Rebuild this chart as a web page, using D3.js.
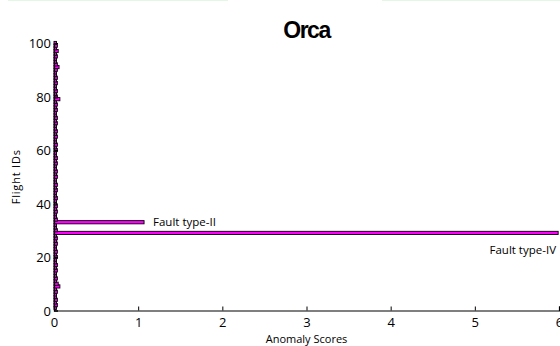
<!DOCTYPE html>
<html>
<head>
<meta charset="utf-8">
<script src="https://cdn.jsdelivr.net/npm/d3@7"></script>
<style>
  html, body { margin: 0; padding: 0; background: #fff; }
  svg { display: block; }
</style>
</head>
<body>
<svg id="chart" width="560" height="346"></svg>
<script>
// Flight IDs 1..100 and their anomaly scores
const flightIds = d3.range(1, 101);
const anomalyScores = [
  0.03, 0.04, 0.03, 0.04, 0.03, 0.03, 0.04, 0.03, 0.07, 0.05,
  0.03, 0.04, 0.03, 0.03, 0.04, 0.03, 0.04, 0.03, 0.03, 0.04,
  0.03, 0.04, 0.03, 0.03, 0.04, 0.03, 0.04, 0.03, 5.99, 0.04,
  0.03, 0.03, 1.07, 0.04, 0.03, 0.03, 0.04, 0.03, 0.04, 0.03,
  0.03, 0.04, 0.03, 0.03, 0.04, 0.03, 0.04, 0.03, 0.03, 0.04,
  0.03, 0.04, 0.03, 0.03, 0.04, 0.03, 0.04, 0.03, 0.03, 0.04,
  0.03, 0.04, 0.03, 0.03, 0.04, 0.03, 0.04, 0.03, 0.03, 0.04,
  0.03, 0.04, 0.03, 0.03, 0.04, 0.03, 0.04, 0.03, 0.07, 0.04,
  0.03, 0.04, 0.03, 0.03, 0.04, 0.03, 0.04, 0.03, 0.03, 0.04,
  0.06, 0.04, 0.03, 0.03, 0.04, 0.03, 0.05, 0.03, 0.04, 0.03
];
const xTicks = [0, 1, 2, 3, 4, 5, 6];
const yTicks = [0, 20, 40, 60, 80, 100];
const annotations = [
  { id: 33, text: "Fault type-II" },
  { id: 29, text: "Fault type-IV" }
];

const svg = d3.select("#chart");
const plotLeft = 54, plotRight = 559, plotTop = 43, plotBottom = 310.5;
const bodyFont = "'Open Sans', 'Liberation Sans', sans-serif";

const x = d3.scaleLinear().domain([0, 6]).range([plotLeft, plotRight]);
const y = d3.scaleLinear().domain([0, 100]).range([plotBottom, plotTop]);

// faint frame line along the top edge
svg.append("line").attr("x1", 8).attr("x2", 228).attr("y1", 0.5).attr("y2", 0.5)
  .attr("stroke", "#e4f6e4").attr("stroke-width", 1);
svg.append("line").attr("x1", 382).attr("x2", 560).attr("y1", 0.5).attr("y2", 0.5)
  .attr("stroke", "#e4f6e4").attr("stroke-width", 1);

const data = flightIds.map((id, i) => ({ id, v: anomalyScores[i] }));
const halfH = 0.6;

svg.append("g").selectAll("rect").data(data).join("rect")
  .attr("x", x(0))
  .attr("y", d => y(d.id + halfH))
  .attr("width", d => Math.max(0, x(d.v) - x(0)))
  .attr("height", d => y(d.id - halfH) - y(d.id + halfH))
  .attr("fill", "#ff00ff")
  .attr("stroke", "#000")
  .attr("stroke-width", 0.9);

// axes with inward ticks
const xAxis = d3.axisBottom(x).tickValues(xTicks).tickFormat(d3.format("d")).tickSize(-4).tickPadding(7);
const yAxis = d3.axisLeft(y).tickValues(yTicks).tickFormat(d3.format("d")).tickSize(-4).tickPadding(3);

const gx = svg.append("g").attr("transform", `translate(0,${plotBottom})`).call(xAxis);
const gy = svg.append("g").attr("transform", `translate(${plotLeft},0)`).call(yAxis);
[gx, gy].forEach(g => {
  g.select(".domain").attr("stroke", "#000").attr("stroke-width", 1.2);
  g.selectAll(".tick line").attr("stroke", "#000");
  g.selectAll(".tick text").attr("fill", "#000")
    .style("font-family", bodyFont)
    .style("font-size", "13px");
});
gy.selectAll(".tick text").attr("dy", "0.36em");

// annotations
const bII = annotations[0], bIV = annotations[1];
svg.append("text")
  .attr("x", x(anomalyScores[bII.id - 1]) + 9)
  .attr("y", y(bII.id) + 4)
  .text(bII.text)
  .style("font-family", bodyFont)
  .style("font-size", "11.5px").attr("fill", "#000");
svg.append("text")
  .attr("x", plotRight - 3)
  .attr("y", y(bIV.id) + 21)
  .attr("text-anchor", "end")
  .text(bIV.text)
  .style("font-family", bodyFont)
  .style("font-size", "11.5px").attr("fill", "#000");

// title and axis labels
svg.append("text")
  .attr("x", (plotLeft + plotRight) / 2).attr("y", 38)
  .attr("text-anchor", "middle")
  .text("Orca")
  .style("font-family", "'Liberation Sans', Arial, sans-serif")
  .style("font-weight", "bold").style("font-size", "23px")
  .style("letter-spacing", "-1.5px").attr("fill", "#000");

svg.append("text")
  .attr("x", (plotLeft + plotRight) / 2).attr("y", 343)
  .attr("text-anchor", "middle")
  .text("Anomaly Scores")
  .style("font-family", bodyFont)
  .style("font-size", "11px").attr("fill", "#000");

svg.append("text")
  .attr("transform", `translate(20,${(plotTop + plotBottom) / 2}) rotate(-90)`)
  .attr("text-anchor", "middle")
  .text("Flight IDs")
  .style("font-family", bodyFont)
  .style("font-size", "11px").style("letter-spacing", "0.8px").attr("fill", "#000");
</script>
</body>
</html>
